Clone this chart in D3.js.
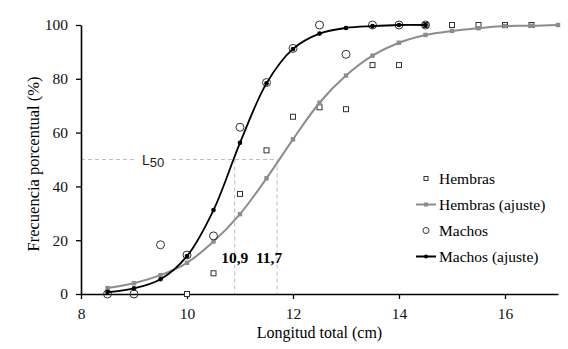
<!DOCTYPE html>
<html>
<head>
<meta charset="utf-8">
<script src="https://cdn.jsdelivr.net/npm/d3@7"></script>
<style>
  body { margin: 0; background: #fff; }
  text { font-family: "Liberation Serif", "Times New Roman", serif; }
</style>
</head>
<body>
<svg id="chart"></svg>
<script>
// Data
const lengths = [8.5, 9, 9.5, 10, 10.5, 11, 11.5, 12, 12.5, 13, 13.5, 14, 14.5, 15, 15.5, 16, 16.5, 17];

// Hembras observed (open squares)
const femaleObsX = [10, 10.5, 11, 11.5, 12, 12.5, 13, 13.5, 14, 14.5, 15, 15.5, 16, 16.5];
const femaleObsY = [0, 7.7, 37.2, 53.4, 65.9, 69.4, 68.7, 85.1, 85.1, 100, 100, 100, 100, 100];

// Hembras fitted curve
const femaleFitY = [2.2, 4.0, 7.0, 11.6, 19.5, 29.7, 43.0, 57.5, 71.1, 81.2, 88.6, 93.4, 96.3, 97.8, 98.8, 99.6, 99.7, 100];

// Machos observed (open circles)
const maleObsX = [8.5, 9, 9.5, 10, 10.5, 11, 11.5, 12, 12.5, 13, 13.5, 14, 14.5];
const maleObsY = [0, 0, 18.3, 14.5, 21.6, 62, 78.6, 91.3, 100, 89.1, 100, 100, 100];

// Machos fitted curve (8.5 .. 14.5)
const maleFitY = [0.7, 2.1, 5.5, 14.1, 31.2, 56.2, 78.3, 91.1, 96.8, 98.9, 99.6, 100, 100];

// L50 values
const l50Values = [10.9, 11.7];
const l50Labels = ["10,9", "11,7"];
const l50Percent = 50;

const xTicks = [8, 10, 12, 14, 16];
const yTicks = [0, 20, 40, 60, 80, 100];

const legendNames = ["Hembras", "Hembras (ajuste)", "Machos", "Machos (ajuste)"];

const width = 568;
const height = 349;
const gray = "#8c8c8c";
const serif = "'Liberation Serif', 'Times New Roman', serif";

const svg = d3.select("#chart")
  .attr("width", width)
  .attr("height", height);

const x = d3.scaleLinear().domain([8, 17]).range([81, 558]);
const y = d3.scaleLinear().domain([0, 100]).range([294, 25]);

// L50 guide lines
const guides = svg.append("g")
  .attr("stroke", "#bdbdbd")
  .attr("stroke-width", 1)
  .attr("stroke-dasharray", "4,3");

guides.append("line")
  .attr("x1", x(8)).attr("x2", x(d3.max(l50Values)))
  .attr("y1", y(l50Percent)).attr("y2", y(l50Percent));

guides.selectAll(".vguide")
  .data(l50Values)
  .enter()
  .append("line")
  .attr("class", "vguide")
  .attr("x1", d => x(d)).attr("x2", d => x(d))
  .attr("y1", y(l50Percent)).attr("y2", y(0));

// L50 label with white background
svg.append("rect")
  .attr("x", 137).attr("y", y(l50Percent) - 6)
  .attr("width", 32).attr("height", 12)
  .attr("fill", "#fff");

const l50Text = svg.append("text")
  .attr("x", 142)
  .attr("y", 165)
  .style("font-family", "'Liberation Sans', Arial, sans-serif")
  .style("font-size", "14px")
  .attr("fill", "#222");
l50Text.append("tspan").text("L");
l50Text.append("tspan").attr("dy", 2).style("font-size", "13px").text("50");

// L50 value labels
const labelOffsets = [0, -8];
svg.selectAll(".l50val")
  .data(l50Values)
  .enter()
  .append("text")
  .attr("class", "l50val")
  .attr("x", (d, i) => x(d) + labelOffsets[i])
  .attr("y", 263)
  .attr("text-anchor", "middle")
  .style("font-family", serif)
  .style("font-size", "15.5px")
  .style("font-weight", "bold")
  .text((d, i) => l50Labels[i]);

// Axes
const xAxis = svg.append("g")
  .attr("transform", `translate(0,${y(0)})`)
  .call(d3.axisBottom(x).tickValues(xTicks).tickSize(5).tickPadding(9).tickSizeOuter(0));

const yAxis = svg.append("g")
  .attr("transform", `translate(${x(8)},0)`)
  .call(d3.axisLeft(y).tickValues(yTicks).tickSize(5).tickPadding(8).tickSizeOuter(0));

[xAxis, yAxis].forEach(function(g) {
  g.attr("font-family", null);
  g.select(".domain").attr("stroke", "#000").attr("stroke-width", 1.6);
  g.selectAll(".tick line").attr("stroke", "#000").attr("stroke-width", 1.3);
  g.selectAll(".tick text")
    .style("font-family", serif)
    .style("font-size", "15.5px")
    .attr("fill", "#111");
});

// Axis titles
svg.append("text")
  .attr("x", (x(8) + x(17)) / 2)
  .attr("y", 338)
  .attr("text-anchor", "middle")
  .style("font-family", serif)
  .style("font-size", "16px")
  .text("Longitud total (cm)");

svg.append("text")
  .attr("transform", "translate(39,164) rotate(-90)")
  .attr("text-anchor", "middle")
  .style("font-family", serif)
  .style("font-size", "16.5px")
  .text("Frecuencia porcentual (%)");

const line = d3.line()
  .x(d => x(d[0]))
  .y(d => y(d[1]))
  .curve(d3.curveCatmullRom.alpha(0.5));

// Hembras observed
const femaleObs = femaleObsX.map((v, i) => [v, femaleObsY[i]]);
svg.selectAll(".fobs")
  .data(femaleObs)
  .enter()
  .append("rect")
  .attr("class", "fobs")
  .attr("x", d => x(d[0]) - 2.5)
  .attr("y", d => y(d[1]) - 2.5)
  .attr("width", 5).attr("height", 5)
  .attr("fill", "#fff")
  .attr("stroke", "#333")
  .attr("stroke-width", 1);

// Hembras fit
const femaleFit = lengths.map((v, i) => [v, femaleFitY[i]]);
svg.append("path")
  .datum(femaleFit)
  .attr("fill", "none")
  .attr("stroke", gray)
  .attr("stroke-width", 2)
  .attr("d", line);

svg.selectAll(".ffit")
  .data(femaleFit)
  .enter()
  .append("rect")
  .attr("class", "ffit")
  .attr("x", d => x(d[0]) - 2.2)
  .attr("y", d => y(d[1]) - 2.2)
  .attr("width", 4.4).attr("height", 4.4)
  .attr("fill", gray);

// Machos observed
const maleObs = maleObsX.map((v, i) => [v, maleObsY[i]]);
svg.selectAll(".mobs")
  .data(maleObs)
  .enter()
  .append("circle")
  .attr("class", "mobs")
  .attr("cx", d => x(d[0]))
  .attr("cy", d => y(d[1]))
  .attr("r", 4)
  .attr("fill", "none")
  .attr("stroke", "#333")
  .attr("stroke-width", 1);

// Machos fit
const maleFit = maleObsX.map((v, i) => [v, maleFitY[i]]);
svg.append("path")
  .datum(maleFit)
  .attr("fill", "none")
  .attr("stroke", "#000")
  .attr("stroke-width", 1.8)
  .attr("d", line);

svg.selectAll(".mfit")
  .data(maleFit)
  .enter()
  .append("circle")
  .attr("class", "mfit")
  .attr("cx", d => x(d[0]))
  .attr("cy", d => y(d[1]))
  .attr("r", 2.3)
  .attr("fill", "#000");

// Legend
const legend = svg.append("g").attr("transform", "translate(426,178.5)");
const rowH = 26;

legendNames.forEach(function(name, i) {
  const row = legend.append("g").attr("transform", `translate(0,${i * rowH})`);
  if (i === 1 || i === 3) {
    row.append("line")
      .attr("x1", -10).attr("x2", 10)
      .attr("stroke", i === 1 ? gray : "#000")
      .attr("stroke-width", 2);
  }
  if (i === 0) {
    row.append("rect").attr("x", -2).attr("y", -2).attr("width", 4).attr("height", 4)
      .attr("fill", "#fff").attr("stroke", "#333").attr("stroke-width", 1);
  } else if (i === 1) {
    row.append("rect").attr("x", -2).attr("y", -2).attr("width", 4).attr("height", 4)
      .attr("fill", gray);
  } else if (i === 2) {
    row.append("circle").attr("r", 3).attr("fill", "none")
      .attr("stroke", "#333").attr("stroke-width", 1);
  } else {
    row.append("circle").attr("r", 2).attr("fill", "#000");
  }
  row.append("text")
    .attr("x", 13)
    .attr("y", 5)
    .style("font-family", serif)
    .style("font-size", "15.5px")
    .text(name);
});
</script>
</body>
</html>
